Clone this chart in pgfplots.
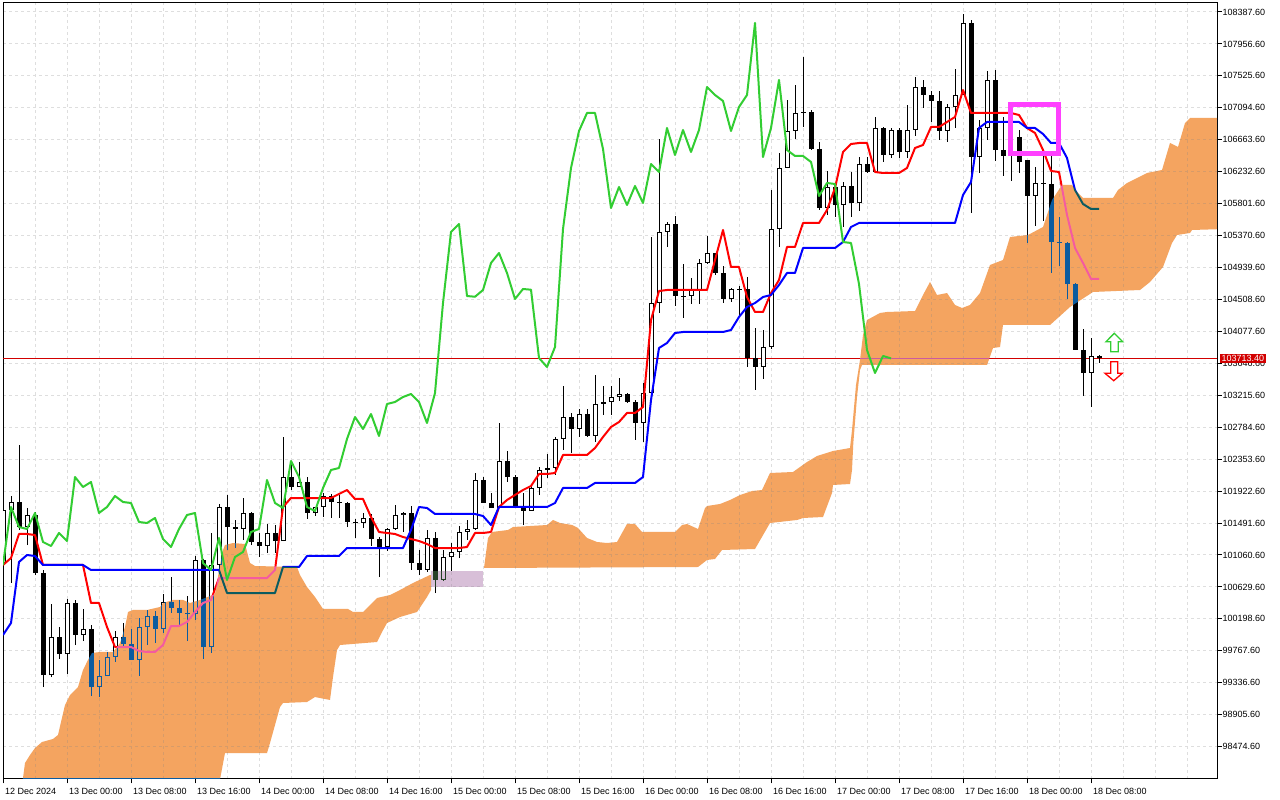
\documentclass[border=0pt]{standalone}
\usepackage{fontspec}
\setmainfont{Liberation Sans}
\usepackage{pgfplots}
\usepackage{pgfplotstable}
\pgfplotsset{compat=1.18}
\definecolor{kumoX}{RGB}{11,91,159}
\definecolor{thistleX}{RGB}{39,64,39}
\definecolor{tenkan}{RGB}{255,0,0}
\definecolor{kijun}{RGB}{0,0,255}
\definecolor{chikou}{RGB}{50,205,50}
\definecolor{gridc}{RGB}{222,222,222}
\definecolor{boxpink}{RGB}{255,64,255}
\definecolor{pricered}{RGB}{210,0,0}

\pgfplotstableread{
h O H L C
-8 100952.4 101802.5 100857.9 101667.6
-7 101667.6 101856.4 100682.5 101775.5
-5 101438.1 101694.5 101195.2 101600.1
-2 99441.0 100399.1 99414.0 99953.8
0 99724.4 100466.6 99454.5 100412.6
2 99980.8 100331.7 99899.8 100061.8
4 99279.1 99643.5 99144.1 99427.5
5 99427.5 99751.4 99427.5 99683.9
6 99683.9 100034.8 99616.5 99953.8
9 99643.5 100210.2 99427.5 100088.7
10 100088.7 100318.2 99845.8 100237.2
12 100061.8 100534.0 100007.8 100426.1
16 100264.2 101046.8 100183.2 100992.9
18 99818.8 101357.2 99737.9 100925.4
19 100925.4 101748.5 100857.9 101708.0
22 101411.2 101829.4 101262.7 101627.1
25 101181.7 101478.6 101087.3 101357.2
27 101249.2 102652.6 101249.2 102112.8
29 101977.9 102315.3 101977.9 102045.4
31 101627.1 101708.0 101586.6 101708.0
32 101708.0 101896.9 101573.1 101856.4
37 101492.1 101627.1 101424.6 101559.6
40 101168.2 101424.6 101114.3 101411.2
41 101411.2 101735.0 101397.7 101600.1
42 101600.1 101640.6 101370.7 101627.1
45 100857.9 101397.7 100830.9 101289.7
47 100723.0 101127.8 100709.5 101033.3
48 101033.3 101222.2 100844.4 101100.8
49 101100.8 101451.6 101019.8 101370.7
50 101370.7 101532.6 101262.7 101411.2
51 101411.2 102166.8 101397.7 102072.4
54 101694.5 102841.5 101694.5 102328.8
58 101654.1 102004.9 101654.1 101964.4
59 101964.4 102247.8 101869.9 102207.3
60 102207.3 102423.2 102099.3 102234.3
61 102234.3 102652.6 102139.8 102625.7
62 102625.7 103340.8 102477.2 102922.5
64 102760.6 103030.5 102652.6 102963.0
66 102666.1 103489.2 102585.1 103097.9
67 103097.9 103340.8 102949.5 103124.9
68 103124.9 103340.8 102949.5 103192.3
69 103192.3 103448.7 103138.4 103232.8
72 102841.5 103381.3 102585.1 103246.3
73 103246.3 105351.4 103219.3 104460.8
74 104460.8 106673.9 104325.9 105418.9
75 105418.9 105553.8 105216.4 105526.8
78 104555.2 104798.1 104447.3 104636.2
79 104636.2 105054.6 104447.3 105000.6
80 105000.6 105364.9 104987.1 105135.5
83 104514.8 104663.2 104474.3 104649.8
87 103597.2 104096.5 103435.3 103867.0
88 103867.0 105985.6 103840.1 105459.4
89 105459.4 106484.9 105216.4 106282.5
90 106282.5 107200.1 106282.5 106781.8
91 106781.8 107402.5 106673.9 107024.7
95 105742.7 106242.0 105648.3 106026.1
97 105783.2 106093.6 105486.3 106039.6
99 105810.2 106430.9 105702.3 106336.5
101 106228.5 106970.7 106215.0 106822.2
103 106457.9 106822.2 106417.4 106795.3
105 106498.4 107132.6 106417.4 106795.3
106 106795.3 107510.4 106714.3 107375.5
110 106781.8 107146.1 106633.3 107105.6
111 107105.6 107618.5 106822.2 107267.5
112 107267.5 108360.6 107267.5 108239.1
114 106430.9 106930.2 106215.0 106822.2
115 106822.2 107591.4 106660.3 107470.0
121 105904.6 106296.0 105499.8 106080.1
128 103516.2 103988.5 103057.4 103745.6
}\bull

\pgfplotstableread{
h O H L C
-6 101775.5 102544.6 101397.7 101438.1
-4 101600.1 101640.6 100790.4 100817.4
-3 100817.4 100857.9 99279.1 99441.0
-1 99953.8 100088.7 99657.0 99724.4
1 100412.6 100453.1 99845.8 99980.8
3 100061.8 100115.7 99157.6 99279.1
7 99953.8 100142.7 99805.3 99859.3
8 99859.3 100061.8 99643.5 99643.5
11 100237.2 100304.7 99872.8 100061.8
13 100426.1 100763.4 100277.7 100345.1
14 100345.1 100453.1 100115.7 100277.7
15 100277.7 100507.0 99899.8 100264.2
17 100992.9 101006.4 99657.0 99818.8
20 101708.0 101869.9 101127.8 101438.1
21 101438.1 101532.6 101154.7 101411.2
23 101627.1 101640.6 101195.2 101235.7
24 101235.7 101357.2 101033.3 101181.7
26 101357.2 101465.1 101087.3 101249.2
28 102112.8 102301.8 101937.4 101977.9
30 102045.4 102112.8 101546.2 101627.1
33 101856.4 101883.4 101559.6 101775.5
34 101775.5 101869.9 101559.6 101762.0
35 101762.0 101775.5 101438.1 101505.6
36 101505.6 101546.2 101289.7 101492.1
38 101559.6 101613.6 101181.7 101276.3
39 101276.3 101303.2 100763.4 101168.2
43 101627.1 101721.5 100857.9 100952.4
44 100952.4 101127.8 100790.4 100857.9
46 101289.7 101370.7 100547.5 100723.0
52 102072.4 102112.8 101762.0 101762.0
53 101762.0 101896.9 101694.5 101694.5
55 102328.8 102463.7 102045.4 102112.8
56 102112.8 102139.8 101708.0 101708.0
57 101708.0 101896.9 101465.1 101654.1
63 102922.5 102976.5 102436.7 102760.6
65 102963.0 103030.5 102652.6 102666.1
70 103232.8 103246.3 103111.4 103124.9
71 103124.9 103151.9 102612.1 102841.5
76 105526.8 105634.8 104420.3 104555.2
77 104555.2 104987.1 104258.4 104545.0
81 105135.5 105135.5 104838.6 104865.6
82 104865.6 104960.1 104460.8 104514.8
84 104649.8 104690.2 104298.9 104640.0
85 104649.8 104811.6 103597.2 103718.6
86 103718.6 104123.4 103286.8 103597.2
92 107038.2 107780.3 106835.7 107024.7
93 107038.2 107065.2 106525.4 106538.9
94 106538.9 106633.3 105715.8 105742.7
96 106026.1 106080.1 105621.3 105783.2
98 106039.6 106228.5 105621.3 105810.2
100 106336.5 106430.9 106215.0 106228.5
102 106822.2 106835.7 106363.5 106457.9
104 106795.3 106822.2 106417.4 106498.4
107 107375.5 107470.0 107092.1 107267.5
108 107267.5 107321.5 106903.2 107186.6
109 107186.6 107321.5 106660.3 106781.8
113 108239.1 108279.6 105675.3 106430.9
116 107470.0 107604.9 106377.0 106525.4
117 106525.4 106970.7 106174.5 106444.4
118 106457.9 106484.9 106107.1 106444.4
119 106700.8 106795.3 106215.0 106363.5
120 106390.5 106390.5 105270.4 105904.6
122 106080.1 106457.9 105567.3 106066.6
123 106066.6 106457.9 104865.6 105283.9
124 105283.9 105621.3 104960.1 105270.4
125 105270.4 105283.9 104514.8 104717.2
126 104717.2 104730.7 103826.6 103826.6
127 103826.6 104110.0 103205.8 103516.2
129 103745.6 103759.1 103651.2 103713.4
}\bear

\begin{document}
\begin{tikzpicture}
\useasboundingbox (0,0) rectangle (1280pt,800pt);
\begin{axis}[
  at={(3pt,21pt)}, anchor=south west,
  scale only axis, width=1214pt, height=776pt,
  xmin=-8, xmax=143.75, ymin=98037.7, ymax=108509,
  scaled x ticks=false, scaled y ticks=false,
  axis background/.style={fill=white},
  axis line style={black, line width=1pt},
  xtick={-8,0,8,16,24,32,40,48,56,64,72,80,88,96,104,112,120,128},
  xticklabels={12 Dec 2024,13 Dec 00:00,13 Dec 08:00,13 Dec 16:00,14 Dec 00:00,14 Dec 08:00,14 Dec 16:00,15 Dec 00:00,15 Dec 08:00,15 Dec 16:00,16 Dec 00:00,16 Dec 08:00,16 Dec 16:00,17 Dec 00:00,17 Dec 08:00,17 Dec 16:00,18 Dec 00:00,18 Dec 08:00},
  minor xtick={-4,0,4,...,140},
  ytick={98474.6,98905.6,99336.6,99767.6,100198.6,100629.6,101060.6,101491.6,101922.6,102353.6,102784.6,103215.6,103646.6,104077.6,104508.6,104939.6,105370.6,105801.6,106232.6,106663.6,107094.6,107525.6,107956.6,108387.6},
  yticklabels={98474.60,98905.60,99336.60,99767.60,100198.60,100629.60,101060.60,101491.60,101922.60,102353.60,102784.60,103215.60,103646.60,104077.60,104508.60,104939.60,105370.60,105801.60,106232.60,106663.60,107094.60,107525.60,107956.60,108387.60},
  xmajorgrids=false, xminorgrids=true, ymajorgrids=true,
  grid style={gridc, line width=1pt, dash pattern=on 3pt off 3pt},
  minor grid style={gridc, line width=1pt, dash pattern=on 3pt off 3pt},
  xtick pos=left, ytick pos=right, yticklabel pos=right,
  tick align=outside, major tick length=4.5pt, minor tick length=0pt,
  every tick/.style={black, line width=1pt},
  tick label style={font=\fontsize{9}{10.8}\selectfont, text=black},
  xticklabel style={anchor=north west, inner sep=0pt, xshift=2pt, yshift=-4.5pt},
  yticklabel style={anchor=west, inner sep=0pt, xshift=1pt},
]
% current price line
\addplot[forget plot, pricered, line width=1pt] coordinates {(-8,103713.4) (143.75,103713.4)};
% wicks
\addplot[forget plot, draw=none, mark=none, error bars/.cd, y dir=plus, y explicit, error mark=none,
  error bar style={draw=black, line width=1pt, line cap=butt}]
  table[x=h, y=L, y error plus expr=\thisrow{H}-\thisrow{L}] {\bull};
\addplot[forget plot, draw=none, mark=none, error bars/.cd, y dir=plus, y explicit, error mark=none,
  error bar style={draw=black, line width=1pt, line cap=butt}]
  table[x=h, y=L, y error plus expr=\thisrow{H}-\thisrow{L}] {\bear};
% bear bodies
\addplot[forget plot, draw=none, mark=none, error bars/.cd, y dir=plus, y explicit, error mark=none,
  error bar style={draw=black, line width=5pt, line cap=butt}]
  table[x=h, y=C, y error plus expr=\thisrow{O}-\thisrow{C}] {\bear};
% bull bodies
\addplot[forget plot, draw=none, mark=none, error bars/.cd, y dir=plus, y explicit, error mark=none,
  error bar style={draw=black, line width=5pt, line cap=butt}]
  table[x=h, y=O, y error plus expr=\thisrow{C}-\thisrow{O}] {\bull};
\addplot[forget plot, draw=none, mark=none, error bars/.cd, y dir=plus, y explicit, error mark=none,
  error bar style={draw=white, line width=3pt, line cap=butt}]
  table[x=h, y expr=\thisrow{O}+13.49, y error plus expr={max(\thisrow{C}-\thisrow{O}-26.99,0)}] {\bull};
% Tenkan-sen
\addplot[forget plot, tenkan, line width=2pt, line join=round] coordinates {
(-8,100925.4)(-7,101019.8)(-6,101343.7)(-5,101343.7)(-4,101330.2)(-3,100925.4)(2,100925.4)(3,100412.6)(4,100412.6)(5,100088.7)(6,99818.8)(8,99818.8)(9,99764.9)(10,99751.4)(11,99751.4)(12,99845.8)(13,100102.2)(14,100102.2)(15,100156.2)(16,100291.2)(17,100412.6)(18,100453.1)(19,100749.9)(25,100749.9)(26,100857.9)(27,101708.0)(28,101829.4)(33,101829.4)(34,101883.4)(35,101937.4)(36,101816.0)(37,101816.0)(38,101573.1)(39,101370.7)(40,101357.2)(41,101343.7)(42,101303.2)(43,101276.3)(44,101249.2)(45,101208.7)(46,101154.7)(49,101154.7)(50,101168.2)(51,101357.2)(52,101357.2)(53,101370.7)(54,101708.0)(55,101802.5)(56,101869.9)(57,101937.4)(58,101991.4)(59,102153.3)(60,102153.3)(61,102166.8)(62,102409.7)(65,102409.7)(66,102504.1)(67,102652.6)(68,102787.5)(69,102855.0)(70,102976.5)(71,102976.5)(72,103057.4)(73,104231.4)(74,104622.7)(75,104636.2)(80,104636.2)(81,105041.1)(82,105445.9)(83,104946.6)(84,104946.6)(85,104541.7)(86,104339.4)(87,104339.4)(88,104595.7)(89,104771.2)(90,105216.4)(91,105216.4)(92,105540.3)(94,105540.3)(95,105715.8)(96,106012.6)(97,106498.4)(98,106606.3)(99,106619.8)(100,106619.8)(101,106228.5)(102,106215.0)(104,106215.0)(105,106282.5)(106,106552.4)(107,106592.8)(108,106835.7)(109,106835.7)(110,106903.2)(111,106970.7)(112,107335.0)(113,107024.7)(118,107024.7)(119,106997.7)(120,106822.2)(121,106754.8)(122,106525.4)(123,106242.0)(124,106228.5)(125,105648.3)(126,105202.9)(127,105000.6)(128,104784.7)(129,104784.7)};
% Kijun-sen
\addplot[forget plot, kijun, line width=2pt, line join=round] coordinates {
(-8,99980.8)(-7,100142.7)(-6,100965.9)(-5,101060.3)(-4,101046.8)(-3,100925.4)(2,100925.4)(3,100857.9)(19,100857.9)(20,100547.5)(26,100547.5)(27,100898.4)(29,100898.4)(30,101046.8)(34,101046.8)(35,101154.7)(42,101154.7)(43,101397.7)(44,101708.0)(45,101694.5)(46,101613.6)(51,101613.6)(52,101586.6)(53,101465.1)(54,101708.0)(60,101708.0)(61,101762.0)(62,101964.4)(65,101964.4)(66,102031.9)(71,102031.9)(72,102112.8)(73,103151.9)(74,103853.5)(75,103921.0)(76,104056.0)(77,104069.5)(82,104069.5)(83,104096.5)(84,104271.9)(85,104406.8)(86,104460.8)(87,104541.7)(88,104568.7)(89,104703.7)(90,104865.6)(91,104865.6)(92,105202.9)(96,105202.9)(97,105283.9)(98,105486.3)(99,105540.3)(111,105540.3)(112,105918.1)(113,106093.6)(114,106822.2)(115,106903.2)(119,106903.2)(120,106822.2)(121,106822.2)(122,106741.3)(123,106619.8)(124,106619.8)(125,106417.4)(126,105985.6)(127,105796.7)(128,105729.3)(129,105729.3)};
% Kumo (up cloud), drawn as inverting overlay
\addplot[forget plot, draw=none, fill=kumoX, blend mode=exclusion] coordinates {
(-5.625,97889.2)(-5.5,98051.1)(-5.25,98253.6)(-4.625,98361.5)(-4.0,98455.9)(-3.125,98536.9)(-1.75,98577.5)(-1.125,98631.4)(-0.75,98806.8)(-0.25,99036.2)(0.375,99171.1)(1.375,99279.1)(2.0,99508.5)(2.625,99643.5)(3.125,99737.9)(4.125,99751.4)(5.75,99751.4)(6.25,99818.8)(6.625,99872.8)(7.25,100088.7)(7.625,100291.2)(8.25,100318.2)(10.0,100318.2)(11.625,100358.6)(12.0,100412.6)(13.25,100453.1)(14.5,100453.1)(15.375,100412.6)(16.625,100453.1)(17.875,100507.0)(18.5,100534.0)(19.125,100925.4)(19.5,101127.8)(19.75,101195.2)(20.75,101222.2)(22.25,101208.7)(22.875,100952.4)(23.5,100911.9)(28.75,100898.4)(29.125,100790.4)(30.0,100628.5)(31.0,100493.5)(32.0,100331.7)(35.125,100331.7)(35.75,100291.2)(37.0,100291.2)(38.75,100480.0)(40.375,100520.5)(41.625,100588.0)(43.25,100682.5)(45.375,100790.4)(45.5,100790.4)
(45.5,100588.0)(45.0,100493.5)(43.75,100291.2)(41.625,100223.7)(40.0,100142.7)(39.375,100021.3)(38.75,99886.3)(34.125,99845.8)(33.75,99778.4)(33.25,99414.0)(32.875,99103.7)(31.0,99144.1)(30.0,99076.7)(27.0,99063.2)(26.625,99009.2)(25.375,98523.4)(25.0,98388.5)(19.75,98388.5)(18.875,97889.2)(-5.625,97889.2)};
\addplot[forget plot, draw=none, fill=kumoX, blend mode=exclusion] coordinates {
(52.125,100884.9)(52.625,101289.7)(53.125,101370.7)(55.125,101397.7)(55.75,101438.1)(60.0,101465.1)(60.75,101532.6)(61.625,101492.1)(63.125,101465.1)(63.875,101424.6)(65.0,101289.7)(66.25,101235.7)(67.5,101222.2)(68.75,101235.7)(69.375,101357.2)(70.0,101478.6)(71.0,101478.6)(71.875,101370.7)(76.0,101370.7)(76.875,101465.1)(77.5,101478.6)(78.875,101411.2)(79.75,101694.5)(80.0,101721.5)(81.625,101748.5)(82.875,101802.5)(84.125,101869.9)(85.625,101923.9)(86.875,101937.4)(87.875,102166.8)(90.75,102180.3)(92.5,102315.3)(93.75,102396.2)(95.75,102463.7)(97.875,102504.1)(98.125,102747.1)(98.625,103354.3)(99.125,103691.7)(99.5,104029.0)(100.0,104231.4)(101.625,104325.9)(102.5,104339.4)(106.0,104352.9)(107.0,104568.7)(107.875,104744.2)(108.75,104568.7)(110.0,104595.7)(111.0,104433.8)(111.875,104393.3)(112.875,104433.8)(114.125,104595.7)(115.375,104973.6)(117.0,105041.1)(117.875,105351.4)(120.125,105378.4)(122.0,105486.3)(123.125,105850.7)(124.375,106053.1)(125.625,106053.1)(126.25,105958.6)(127.0,105877.7)(130.75,105877.7)(131.375,105985.6)(132.5,106080.1)(135.0,106215.0)(136.875,106255.5)(137.875,106619.8)(138.875,106565.8)(139.75,106889.7)(140.375,106957.2)(144.75,106957.2)
(144.75,105459.4)(140.625,105445.9)(140.375,105405.4)(138.75,105378.4)(138.125,105270.4)(137.0,104946.6)(135.375,104744.2)(134.125,104636.2)(128.25,104609.2)(125.375,104406.8)(122.875,104164.0)(117.0,104164.0)(116.625,103867.0)(115.75,103853.5)(115.0,103624.2)(99.375,103624.2)(99.125,103556.7)(98.75,103192.3)(98.29,102571.6)(98.125,102207.3)(97.875,102018.4)(95.75,102004.9)(95.625,101896.9)(94.5,101573.1)(92.0,101559.6)(91.25,101532.6)(87.875,101492.1)(86.0,101141.3)(81.875,101127.8)(81.0,101006.4)(80.0,100992.9)(78.875,100898.4)(52.125,100884.9)};
% Kumo (down cloud)
\addplot[forget plot, draw=none, fill=thistleX, blend mode=exclusion] coordinates {
(45.56,100844.4)(52.06,100844.4)(52.06,100628.5)(45.56,100628.5)};
% Chikou span
\addplot[forget plot, chikou, line width=2pt, line join=round] coordinates {
(-8,100925.4)(-7,101708.0)(-6,101438.1)(-5,101411.2)(-4,101627.1)(-3,101235.7)(-2,101181.7)(-1,101357.2)(0,101249.2)(1,102112.8)(2,101977.9)(3,102045.4)(4,101627.1)(5,101708.0)(6,101856.4)(7,101775.5)(8,101762.0)(9,101505.6)(10,101492.1)(11,101559.6)(12,101276.3)(13,101168.2)(14,101411.2)(15,101600.1)(16,101627.1)(17,100952.4)(18,100857.9)(19,101289.7)(20,100723.0)(21,101033.3)(22,101100.8)(23,101370.7)(24,101411.2)(25,102072.4)(26,101762.0)(27,101694.5)(28,102328.8)(29,102112.8)(30,101708.0)(31,101654.1)(32,101964.4)(33,102207.3)(34,102234.3)(35,102625.7)(36,102922.5)(37,102760.6)(38,102963.0)(39,102666.1)(40,103097.9)(41,103124.9)(42,103192.3)(43,103232.8)(44,103124.9)(45,102841.5)(46,103246.3)(47,104460.8)(48,105418.9)(49,105526.8)(50,104555.2)(51,104545.0)(52,104636.2)(53,105000.6)(54,105135.5)(55,104865.6)(56,104514.8)(57,104649.8)(58,104640.0)(59,103718.6)(60,103597.2)(61,103867.0)(62,105459.4)(63,106282.5)(64,106781.8)(65,107024.7)(66,107024.7)(67,106538.9)(68,105742.7)(69,106026.1)(70,105783.2)(71,106039.6)(72,105810.2)(73,106336.5)(74,106228.5)(75,106822.2)(76,106457.9)(77,106795.3)(78,106498.4)(79,106795.3)(80,107375.5)(81,107267.5)(82,107186.6)(83,106781.8)(84,107105.6)(85,107267.5)(86,108239.1)(87,106430.9)(88,106822.2)(89,107470.0)(90,106525.4)(91,106444.4)(92,106444.4)(93,106363.5)(94,105904.6)(95,106080.1)(96,106066.6)(97,105283.9)(98,105270.4)(99,104717.2)(100,103826.6)(101,103516.2)(102,103745.6)(103,103713.4)};
% highlight rectangle
\addplot[forget plot, draw=boxpink, line width=5pt, line join=miter] coordinates {
(117.98,107135.3)(123.9,107135.3)(123.9,106482.2)(117.98,106482.2)} -- cycle;
% arrows
\addplot[forget plot, draw=chikou, fill=white, line width=1.3pt, line join=miter] coordinates {
(130.91,104052.0)(131.96,103938.6)(131.41,103938.6)(131.41,103803.7)(130.46,103803.7)(130.46,103938.6)(129.875,103938.6)} -- cycle;
\addplot[forget plot, draw=red, fill=white, line width=1.3pt, line join=miter] coordinates {
(130.46,103668.8)(131.34,103668.8)(131.34,103512.2)(131.91,103512.2)(130.84,103412.4)(129.75,103512.2)(130.46,103512.2)} -- cycle;
\coordinate (pl) at (axis cs:143.75,103713.4);
\end{axis}
\node[fill=pricered, text=white, inner xsep=2pt, inner ysep=1.6pt, text height=6.4pt, text depth=0pt,
  anchor=west, font=\fontsize{9}{10.8}\selectfont] at ([xshift=2.5pt]pl) {103713.40};
\end{tikzpicture}
\end{document}
